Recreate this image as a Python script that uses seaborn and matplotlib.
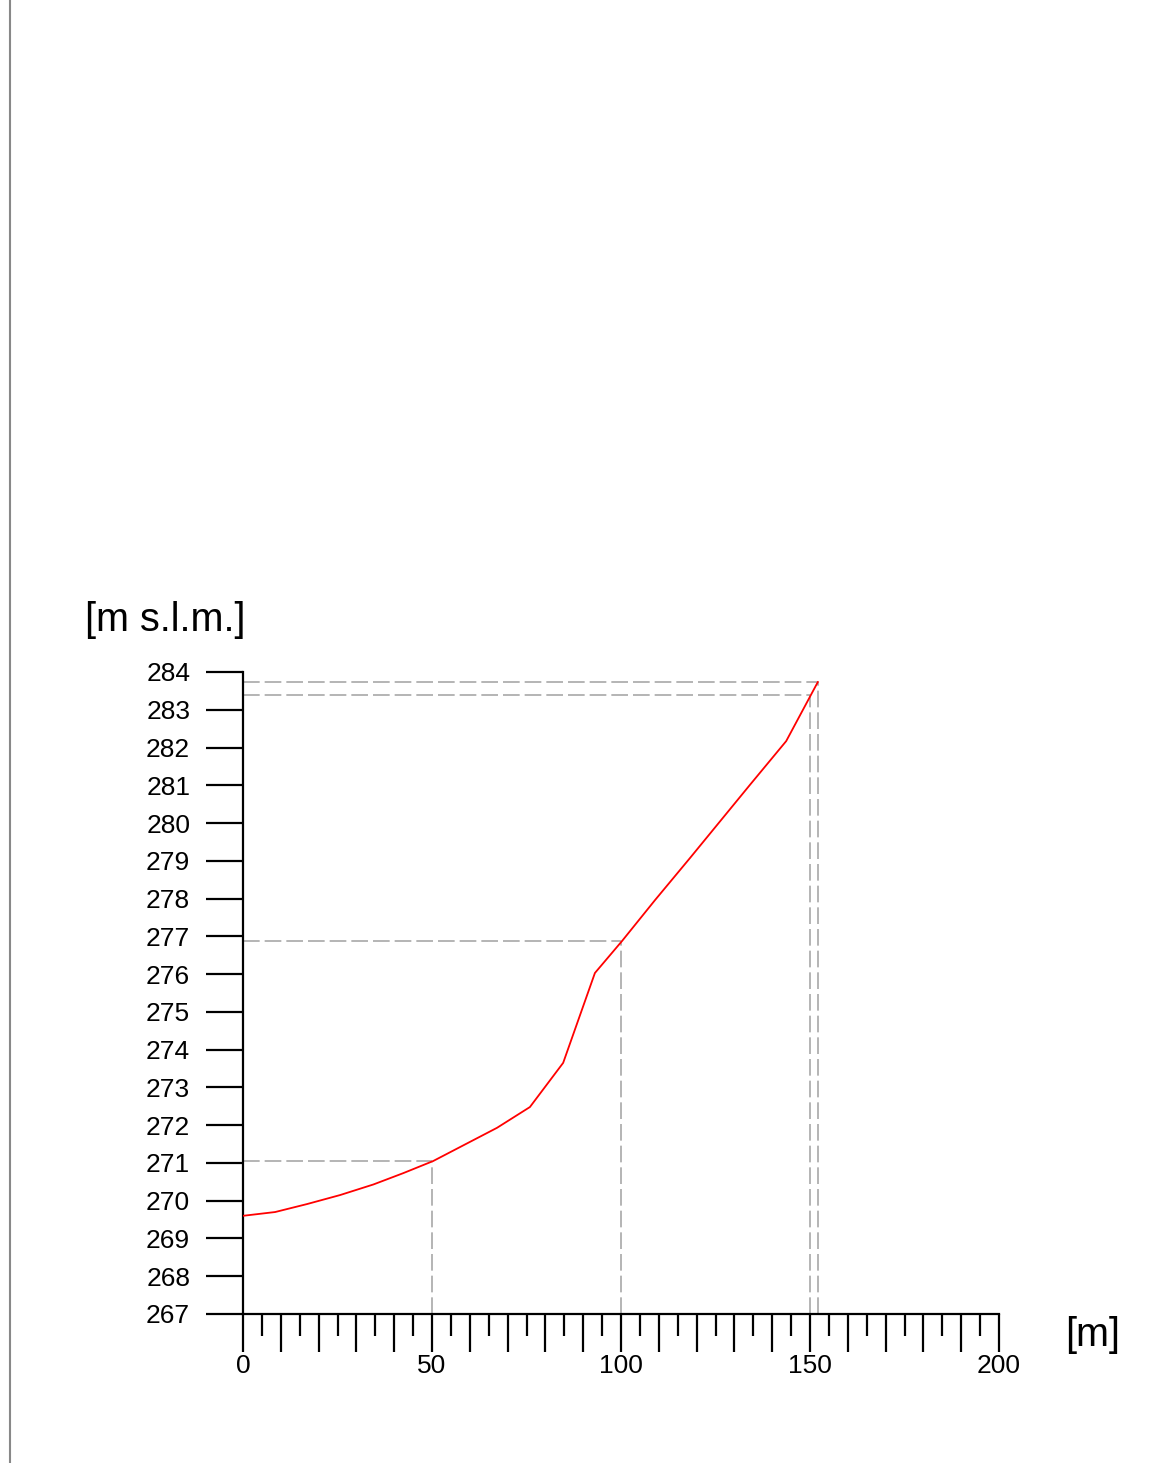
import matplotlib
matplotlib.use("Agg")
import matplotlib.pyplot as plt
from matplotlib.ticker import MultipleLocator, FuncFormatter
from matplotlib.lines import Line2D
import seaborn as sns
import pandas as pd

# Profile data (distance [m], elevation [m s.l.m.])
distance = [0.0, 8.5, 16.9, 25.7, 34.5, 42.4, 50.3, 67.2, 75.9, 84.7, 93.1, 100.3, 109.0, 118.3, 134.1, 143.7, 152.1]
elevation = [269.60, 269.70, 269.91, 270.15, 270.43, 270.73, 271.05, 271.93, 272.48, 273.65, 276.03, 276.88, 277.96, 279.08, 281.01, 282.17, 283.74]

# Guide (dashed) lines
guide_x = [50.0, 100.0, 150.0, 152.1]
guide_y = [271.05, 276.88, 283.39, 283.74]

x_label_ticks = [0, 50, 100, 150, 200]
y_ticks = list(range(267, 285))

sns.set_style("white")
plt.rcParams['font.family'] = ['Liberation Sans', 'DejaVu Sans']
plt.rcParams['text.color'] = 'black'
plt.rcParams['xtick.color'] = 'black'
plt.rcParams['ytick.color'] = 'black'
plt.rcParams['xtick.labelcolor'] = 'black'
plt.rcParams['ytick.labelcolor'] = 'black'

fig = plt.figure(figsize=(11.7, 14.63), dpi=100)
ax = fig.add_axes([243/1170, 149/1463, 756/1170, 642/1463])

df = pd.DataFrame({"d": distance, "z": elevation})

# guide lines
for gx, gy in zip(guide_x, guide_y):
    ax.plot([0, gx], [gy, gy], color="#a8a8a8", lw=1.2, dashes=(10, 3), zorder=1)
    ax.plot([gx, gx], [267, gy], color="#a8a8a8", lw=1.2, dashes=(10, 3), zorder=1)

sns.lineplot(data=df, x="d", y="z", color="red", lw=1.3, ax=ax, zorder=3)

ax.set_xlim(0, 200)
ax.set_ylim(267, 284)
ax.set_xlabel("")
ax.set_ylabel("")

for s in ["top", "right"]:
    ax.spines[s].set_visible(False)
for s in ["left", "bottom"]:
    ax.spines[s].set_linewidth(1.6)
    ax.spines[s].set_color("black")

ax.xaxis.set_major_locator(MultipleLocator(10))
ax.xaxis.set_minor_locator(MultipleLocator(5))
ax.xaxis.set_major_formatter(FuncFormatter(lambda v, p: f"{int(round(v))}" if int(round(v)) in x_label_ticks else ""))
ax.set_yticks(y_ticks)
ax.set_yticklabels([str(t) for t in y_ticks])

ax.tick_params(axis="x", which="major", direction="out", length=27, width=1.6, labelsize=19, pad=2, color="black", labelcolor="black", bottom=True)
ax.tick_params(axis="x", which="minor", direction="out", length=16, width=1.6, color="black", bottom=True)
ax.tick_params(axis="y", which="major", direction="out", length=27, width=1.6, labelsize=19, pad=11, color="black", labelcolor="black", left=True)

fig.text(85/1170, 1 - 620/1463, "[m s.l.m.]", fontsize=28.5, ha="left", va="center", color="black")
fig.text(1065/1170, 1 - 1335/1463, "[m]", fontsize=28.5, ha="left", va="center", color="black")

fig.add_artist(Line2D([10/1170, 10/1170], [0, 1], color="#888888", lw=1.5, transform=fig.transFigure))

fig.savefig("out.png", dpi=100, facecolor="white")
